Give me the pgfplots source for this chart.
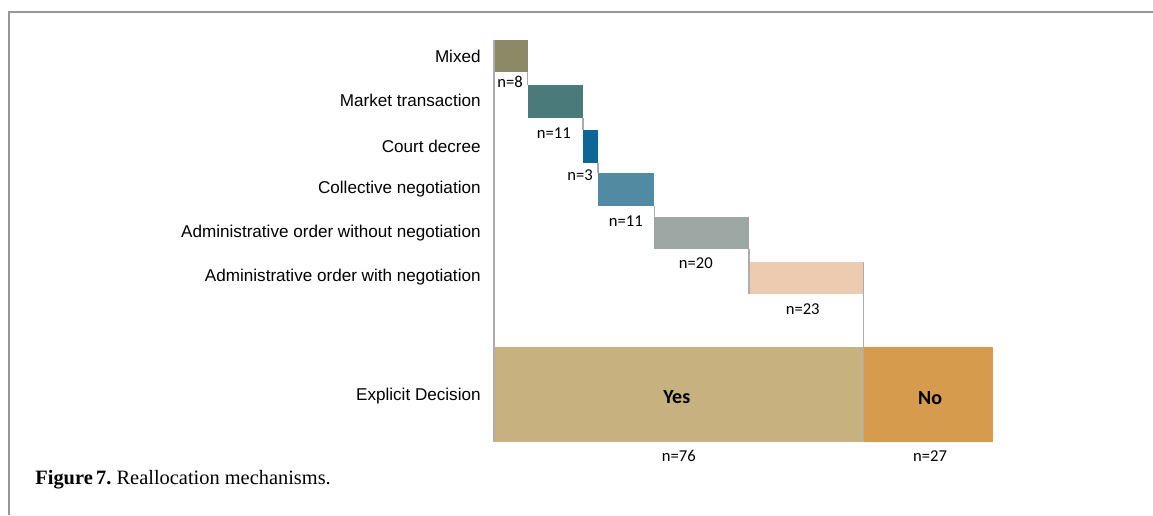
\documentclass[border=0pt]{standalone}
\usepackage{fontspec}
\setmainfont{Liberation Serif}
\newfontfamily\arialf{Liberation Sans}
\newfontfamily\calib{Carlito}
\usepackage{pgfplots}
\pgfplotsset{compat=1.18}
\definecolor{cMixed}{RGB}{140,137,102}
\definecolor{cMarket}{RGB}{75,122,123}
\definecolor{cCourt}{RGB}{13,102,152}
\definecolor{cColl}{RGB}{80,139,163}
\definecolor{cAdmNo}{RGB}{157,168,164}
\definecolor{cAdmW}{RGB}{237,203,177}
\definecolor{cYes}{RGB}{198,177,127}
\definecolor{cNo}{RGB}{214,155,76}
\definecolor{cLine}{RGB}{172,172,172}
\definecolor{cFrame}{RGB}{150,150,150}
\newcommand{\wbar}[5]{\addplot[fill=#1, draw=none, forget plot] coordinates {(#2,#4) (#3,#4) (#3,#5) (#2,#5)};}
\newcommand{\conn}[3]{\addplot[cLine, line width=0.95pt, forget plot] coordinates {(#1,#2) (#1,#3)};}
\begin{document}
\frenchspacing
\begin{tikzpicture}
\begin{axis}[
  at={(0,0)}, anchor=south west,
  scale only axis, width=576.5pt, height=257.5pt,
  xmin=-101.6, xmax=135.54, ymin=-0.261, ymax=11.338,
  y dir=reverse, hide axis, clip=false]
% frame
\draw[cFrame, line width=1pt] (axis cs:135.54,0.009) -- (axis cs:-99.75,0.009) -- (axis cs:-99.75,11.338);
% bars: colour, start, end, top row, bottom row
\wbar{cMixed}{0}{6.9}{0.64}{1.36}
\wbar{cMarket}{6.9}{18.3}{1.65}{2.40}
\wbar{cCourt}{18.3}{21.4}{2.67}{3.41}
\wbar{cColl}{21.4}{33.0}{3.64}{4.38}
\wbar{cAdmNo}{33.0}{52.5}{4.63}{5.35}
\wbar{cAdmW}{52.5}{76}{5.64}{6.36}
\wbar{cYes}{0}{76}{7.55}{9.69}
\wbar{cNo}{76}{102.7}{7.55}{9.69}
% connector lines
\conn{0}{0.64}{9.69}
\conn{6.9}{1.36}{1.65}
\conn{18.3}{2.40}{2.67}
\conn{21.4}{3.41}{3.64}
\conn{33.0}{4.38}{4.63}
\conn{52.5}{5.35}{6.36}
\conn{76}{5.64}{9.69}
% category labels
\begin{scope}[every node/.style={anchor=east, font=\arialf\fontsize{8.55pt}{10pt}\selectfont, inner sep=0pt}]
\node at (axis cs:-2.67,1) {Mixed};
\node at (axis cs:-2.67,2.01) {Market transaction};
\node at (axis cs:-2.67,3.04) {Court decree};
\node at (axis cs:-2.67,4.0) {Collective negotiation};
\node at (axis cs:-2.67,4.99) {Administrative order without negotiation};
\node at (axis cs:-2.67,5.97) {Administrative order with negotiation};
\node at (axis cs:-2.67,8.66) {Explicit Decision};
\end{scope}
% n labels
\begin{scope}[every node/.style={font=\calib\fontsize{8.3pt}{10pt}\selectfont, inner sep=0pt}]
\node at (axis cs:3.3,1.58) {n=8};
\node at (axis cs:12.3,2.73) {n=11};
\node at (axis cs:17.7,3.68) {n=3};
\node at (axis cs:27.1,4.71) {n=11};
\node at (axis cs:41.5,5.66) {n=20};
\node at (axis cs:63.5,6.70) {n=23};
\node at (axis cs:38.0,10.01) {n=76};
\node at (axis cs:89.7,10.01) {n=27};
\end{scope}
\node[font=\calib\bfseries\fontsize{10pt}{12pt}\selectfont, inner sep=0pt] at (axis cs:37.6,8.68) {Yes};
\node[font=\calib\bfseries\fontsize{10pt}{12pt}\selectfont, inner sep=0pt] at (axis cs:89.7,8.70) {No};
% caption
\node[anchor=base west, inner sep=0pt, font=\fontsize{10.2pt}{12pt}\selectfont] at (axis cs:-94.4,10.64) {\textbf{Figure\,7.} Reallocation mechanisms.};
\end{axis}
\pgfresetboundingbox
\path (current axis.south west) rectangle (current axis.north east);
\end{tikzpicture}
\end{document}
